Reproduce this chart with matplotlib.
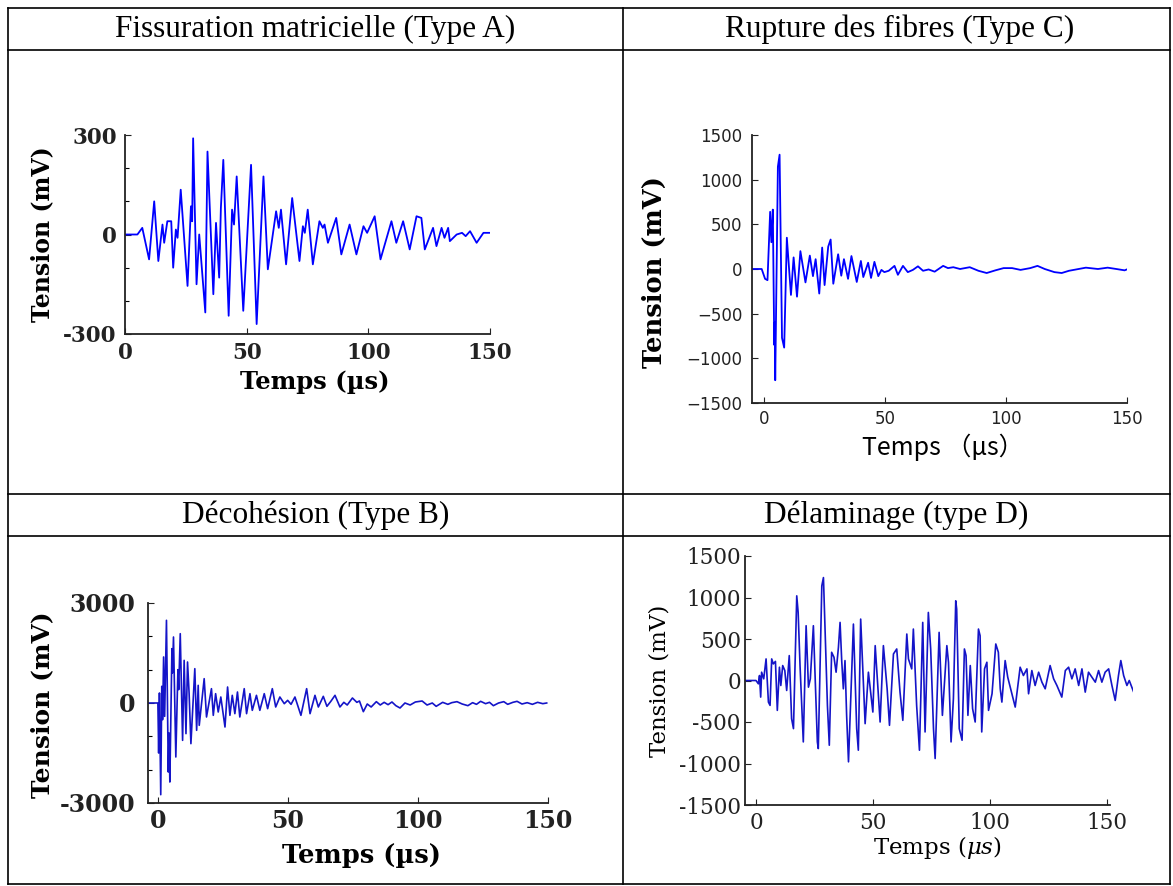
import numpy as np
import matplotlib
matplotlib.use('Agg')
import matplotlib.pyplot as plt
from matplotlib.ticker import FixedLocator, MultipleLocator

plt.rcParams['axes.unicode_minus'] = False
plt.rcParams['mathtext.fontset'] = 'dejavuserif'

# Signaux d'émission acoustique : (temps en µs, tension en mV)
signal_a = [(0, 0), (5.1, 0), (7.1, 20), (9.9, -75), (12.0, 100), (13.7, -80), (15.4, 30), (16.1, -25),
            (17.4, 40), (19.0, 40), (19.8, -100), (20.9, 15), (21.6, -10), (22.9, 135), (25.7, -155),
            (27.1, 85), (27.6, 40), (28.0, 290), (29.4, -150), (30.5, 0), (33.0, -235), (33.9, 250),
            (36.3, -180), (37.4, 35), (38.7, -130), (39.4, 80), (40.4, 225), (42.6, -245), (44.0, 75),
            (44.8, 30), (45.9, 175), (48.6, -230), (51.8, 210), (54.1, -270), (56.9, 175), (58.7, -105),
            (62.1, 70), (63.2, 20), (64.1, 75), (66.2, -90), (68.7, 110), (71.7, -80), (73.1, 25),
            (73.9, 5), (75.1, 75), (77.2, -90), (79.9, 40), (81.3, 20), (82.0, 30), (83.4, -25),
            (86.8, 50), (88.9, -60), (92.3, 30), (95.1, -60), (98.0, 25), (99.5, 5), (102.6, 55),
            (105.0, -75), (109.5, 40), (111.5, -25), (114.3, 40), (117.0, -45), (119.8, 55), (121.8, 50),
            (123.2, -45), (126.6, 20), (128.0, -35), (130.1, 20), (131.3, -10), (132.8, 20), (133.5, -20),
            (136.3, 0), (138.5, 5), (140.0, -5), (141.8, 10), (144.5, -25), (147.3, 5), (150.0, 5)]

signal_c = [(-5, 0), (-1, 0), (0.4, -110), (1.4, -125), (2.5, 640), (3.0, 300), (3.6, 665), (4.2, -850),
            (4.4, -600), (4.6, -1245), (5.7, 1145), (6.4, 1280), (7.4, -770), (8.3, -880), (9.4, 350),
            (11.1, -290), (12.2, 130), (13.6, -310), (15.0, 200), (17.1, -150), (18.9, 150), (20.2, -80),
            (21.3, 110), (22.8, -275), (24.0, 240), (25.0, -180), (26.5, 250), (27.5, 330), (28.6, -165),
            (30.6, 165), (31.9, -75), (33.0, 110), (34.7, -110), (36.1, 145), (38.3, -145), (40.0, 90),
            (41.0, -90), (43.0, 70), (44.2, -100), (45.6, 80), (47.2, -80), (48.5, -10), (49.7, -35),
            (51.5, -20), (53.9, 35), (55.3, -65), (57.4, 35), (59.4, -35), (61.5, -10), (63.6, 30),
            (65.7, -20), (68.0, -5), (70.5, -30), (74.0, 35), (76.0, 10), (78.2, 20), (81.0, 0),
            (85.0, 20), (88.6, -20), (92.0, -45), (95.6, -15), (99.0, 10), (102.5, 10), (106.0, -10),
            (110.0, 10), (113.0, 35), (116.0, 0), (120.0, -35), (123.0, -45), (126.0, -20), (130.0, 0),
            (133.0, 15), (138.0, 0), (142.0, 15), (145.6, 0), (149.0, -15), (150.4, 0)]

signal_b = [(-3.8, 0), (0.0, 0), (0.3, -1500), (0.6, 300), (1.1, -2750), (1.5, 500), (1.8, -500),
            (2.2, 1380), (2.6, -400), (3.3, 2480), (4.0, -2070), (4.3, -900), (4.6, -2370), (5.4, 1630),
            (5.6, 900), (6.0, 1980), (6.9, -1620), (7.7, 1000), (8.0, 400), (8.6, 2080), (9.5, -1120),
            (10.1, 1280), (10.8, -920), (11.4, 1230), (12.0, 300), (12.7, -1220), (14.2, 1030),
            (14.9, -820), (15.5, 530), (15.9, -670), (17.8, 730), (18.7, -420), (20.6, 430), (21.3, -370),
            (22.2, 280), (23.2, -270), (24.2, 180), (25.8, -720), (26.8, 480), (27.7, -370), (28.6, 230),
            (29.6, -320), (30.6, 330), (31.5, -420), (33.2, 430), (34.1, -320), (35.4, 280), (36.3, -220),
            (37.9, 230), (39.2, -220), (40.9, 280), (42.2, -170), (44.0, 430), (45.3, -120), (46.9, 180),
            (48.6, -20), (49.9, 80), (51.2, -40), (52.7, 180), (55.0, -370), (57.2, 430), (58.5, -320),
            (60.4, 230), (61.7, -120), (63.6, 200), (65.0, -100), (66.5, 50), (68.1, 230), (70.0, -120),
            (71.5, 20), (72.8, -60), (74.8, 150), (76.5, 20), (77.5, 60), (79.0, -260), (80.5, -30),
            (82.0, -120), (84.0, 40), (85.5, -60), (87.0, 20), (88.5, -50), (90.0, 30), (91.5, -80),
            (93.1, -150), (95.0, 0), (97.0, -60), (99.0, 30), (101.6, 60), (103.5, -60), (105.5, 0),
            (107.0, -100), (109.5, 20), (111.5, -40), (113.0, 10), (115.0, 40), (117.0, -30), (119.2, -80),
            (121.0, 10), (122.5, -40), (124.1, 50), (126.0, -20), (127.5, 20), (129.0, -80), (131.0, 0),
            (133.0, 40), (134.5, -40), (136.5, 20), (138.1, 50), (140.0, -30), (142.0, 10), (144.0, -40),
            (146.0, 20), (148.0, -20), (149.5, 0)]

signal_d = [(-4.7, 0), (0, 0), (1.0, -40), (1.5, 60), (2.0, -200), (2.4, 100), (3.3, 20), (4.3, 260),
            (5.3, -260), (6.0, -300), (6.7, 260), (7.4, 200), (8.3, 230), (9.1, -360), (10.0, 160),
            (10.6, -60), (11.4, 180), (12.3, 120), (13.1, -120), (14.2, 300), (15.2, -460), (16.0, -580),
            (17.4, 1020), (18.0, 820), (18.8, 180), (20.2, -740), (21.4, 660), (22.4, -80), (23.2, 20),
            (24.5, 660), (26.2, -740), (26.6, -820), (28.1, 1140), (28.8, 1240), (30.5, -300), (31.3, -780),
            (32.3, 340), (33.3, 280), (34.2, 100), (35.2, 400), (35.9, 700), (36.6, 240), (37.3, -100),
            (38.0, 240), (38.7, -420), (39.5, -980), (41.6, 680), (43.0, -580), (43.7, -840), (44.7, 740),
            (46.6, -520), (48.0, 100), (49.9, -380), (50.9, 420), (53.0, -500), (54.4, 420), (56.0, -100),
            (57.0, -540), (58.7, 320), (60.1, 380), (61.5, -140), (62.7, -480), (64.4, 560), (65.1, 260),
            (66.5, 140), (67.2, 620), (68.6, -300), (69.8, -840), (71.2, 700), (72.2, -620), (73.6, 820),
            (74.6, 380), (75.8, -580), (76.5, -940), (78.2, 580), (79.6, -420), (81.5, 420), (82.2, 220),
            (83.3, -740), (84.3, -220), (85.3, 960), (85.7, 860), (86.8, -580), (88.0, -720), (89.0, 380),
            (89.7, 300), (90.5, -420), (91.5, 180), (92.5, -340), (93.6, -500), (95.0, 620), (95.7, 540),
            (96.4, -620), (97.6, 140), (98.6, 220), (99.3, -360), (100.8, -160), (102.4, 440), (103.5, 340),
            (104.3, -100), (105.0, -260), (106.4, 240), (107.5, 40), (110.7, -320), (112.8, 160),
            (114.2, 60), (115.7, 140), (116.4, -160), (117.8, 120), (119.2, -60), (120.7, 100), (122.1, -20),
            (123.5, -100), (125.6, 180), (127.1, 20), (128.5, -60), (130.6, -200), (132.1, 120),
            (133.5, 160), (134.9, 20), (136.3, 140), (137.8, -60), (139.2, 140), (140.6, -140), (142.0, 100),
            (144.9, -20), (146.3, 120), (147.7, -20), (149.1, 100), (150.6, 140), (152.0, -60),
            (153.4, -240), (154.8, 60), (155.8, 240), (157.0, 60), (158.4, -60), (159.4, 0), (161.3, -140)]

# Titres des cellules du tableau
titles = ['Fissuration matricielle (Type A)', 'Rupture des fibres (Type C)',
          'Décohésion (Type B)', 'Délaminage (type D)']

# Graduations
a_yticks = [-300, 0, 300]
a_xticks = [0, 50, 100, 150]
c_yticks = [-1500, -1000, -500, 0, 500, 1000, 1500]
c_ylabels = ['\u22121500', '\u22121000', '\u2212500', '0', '500', '1000', '1500']
c_xticks = [0, 50, 100, 150]
b_yticks = [-3000, 0, 3000]
b_xticks = [0, 50, 100, 150]
d_yticks = [-1500, -1000, -500, 0, 500, 1000, 1500]
d_xticks = [0, 50, 100, 150]

W, H = 1173, 886
fig = plt.figure(figsize=(W / 100, H / 100), dpi=100)
fig.patch.set_facecolor('white')


def px_axes(left, top, right, bottom):
    return fig.add_axes([left / W, 1 - bottom / H, (right - left) / W, (bottom - top) / H])


def style_axes(ax):
    for s in ['top', 'right']:
        ax.spines[s].set_visible(False)
    for s in ['left', 'bottom']:
        ax.spines[s].set_linewidth(1.3)
        ax.spines[s].set_color('#222222')
    ax.tick_params(direction='in', length=4, width=0.8, colors='#222222')
    ax.tick_params(which='minor', direction='in', length=3, width=0.8)
    ax.patch.set_alpha(0)


# --- tableau ---
tab = fig.add_axes([0, 0, 1, 1])
tab.set_xlim(0, W)
tab.set_ylim(H, 0)
tab.axis('off')
x_left, x_mid, x_right = 8, 623, 1170
rows = [8, 50, 494, 536, 884]
for y in rows:
    tab.plot([x_left, x_right], [y, y], color='black', lw=1.2)
for x in [x_left, x_mid, x_right]:
    tab.plot([x, x], [rows[0], rows[-1]], color='black', lw=1.2)
title_font = dict(family='Liberation Serif', fontsize=22.5, ha='center', va='center')
tab.text((x_left + x_mid) / 2, (rows[0] + rows[1]) / 2, titles[0], **title_font)
tab.text((x_mid + x_right) / 2 + 3, (rows[0] + rows[1]) / 2, titles[1], **title_font)
tab.text((x_left + x_mid) / 2, (rows[2] + rows[3]) / 2, titles[2], **title_font)
tab.text((x_mid + x_right) / 2, (rows[2] + rows[3]) / 2, titles[3], **title_font)

bold_serif = dict(family='DejaVu Serif', weight='bold')

# --- Type A ---
ax = px_axes(125, 135, 490, 334)
t, v = np.array(signal_a).T
ax.plot(t, v, color='#0000ff', lw=1.3)
ax.set_xlim(0, 150)
ax.set_ylim(-300, 300)
style_axes(ax)
ax.yaxis.set_major_locator(FixedLocator(a_yticks))
ax.yaxis.set_minor_locator(MultipleLocator(100))
ax.xaxis.set_major_locator(FixedLocator(a_xticks))
for lab in ax.get_xticklabels() + ax.get_yticklabels():
    lab.set(fontsize=15.5, **bold_serif)
ax.tick_params(axis='y', pad=6)
ax.tick_params(axis='x', pad=6)
ax.set_xlabel('Temps (µs)', fontsize=17.5, **bold_serif)
ax.set_ylabel('Tension (mV)', fontsize=17, **bold_serif)
ax.xaxis.set_label_coords(0.52, -0.24)
ax.yaxis.set_label_coords(-0.227, 0.5)
ax.xaxis.label.set_va('center')
ax.yaxis.label.set_va('center')

# --- Type C ---
ax = px_axes(752, 135, 1127, 403)
t, v = np.array(signal_c).T
ax.plot(t, v, color='#0000ff', lw=1.3)
ax.set_xlim(-5, 150)
ax.set_ylim(-1500, 1500)
style_axes(ax)
ax.set_yticks(c_yticks)
ax.set_yticklabels(c_ylabels, family='DejaVu Sans', fontsize=12)
ax.set_xticks(c_xticks)
ax.set_xticklabels([str(x) for x in c_xticks], family='DejaVu Sans', fontsize=12)
ax.tick_params(axis='y', pad=7)
ax.tick_params(axis='x', pad=5)
ax.set_xlabel('Temps （μs）', family=['Noto Sans CJK JP', 'DejaVu Sans'], fontsize=18)
ax.set_ylabel('Tension (mV)', fontsize=18.5, **bold_serif)
ax.xaxis.set_label_coords(0.51, -0.165)
ax.yaxis.set_label_coords(-0.259, 0.49)
ax.xaxis.label.set_va('center')
ax.yaxis.label.set_va('center')

# --- Type B ---
ax = px_axes(148, 603, 548, 803)
t, v = np.array(signal_b).T
ax.plot(t, v, color='#1414c8', lw=1.2)
ax.set_xlim(-3.8, 150)
ax.set_ylim(-3000, 3000)
style_axes(ax)
ax.yaxis.set_major_locator(FixedLocator(b_yticks))
ax.yaxis.set_minor_locator(MultipleLocator(1000))
ax.xaxis.set_major_locator(FixedLocator(b_xticks))
for lab in ax.get_xticklabels() + ax.get_yticklabels():
    lab.set(fontsize=17, **bold_serif)
ax.tick_params(axis='y', pad=9)
ax.tick_params(axis='x', pad=4)
ax.set_xlabel('Temps (µs)', fontsize=18.5, **bold_serif)
ax.set_ylabel('Tension (mV)', fontsize=18, **bold_serif)
ax.xaxis.set_label_coords(0.535, -0.26)
ax.yaxis.set_label_coords(-0.265, 0.49)
ax.xaxis.label.set_va('center')
ax.yaxis.label.set_va('center')

# --- Type D ---
ax = px_axes(745, 556, 1133, 805)
t, v = np.array(signal_d).T
ax.plot(t, v, color='#1414c8', lw=1.2)
ax.set_xlim(-4.7, 161)
ax.set_ylim(-1500, 1500)
style_axes(ax)
ax.spines['bottom'].set_bounds(-4.7, 151)
ax.set_yticks(d_yticks)
ax.set_xticks(d_xticks)
for lab in ax.get_xticklabels() + ax.get_yticklabels():
    lab.set(fontsize=15.5, family='DejaVu Serif')
ax.tick_params(axis='y', pad=3)
ax.tick_params(axis='x', pad=5)
ax.set_xlabel(r'Temps ($\mu s$)', fontsize=16.5, family='DejaVu Serif')
ax.set_ylabel('Tension (mV)', fontsize=16.5, family='DejaVu Serif')
ax.xaxis.set_label_coords(0.497, -0.17)
ax.yaxis.set_label_coords(-0.22, 0.5)
ax.xaxis.label.set_va('center')
ax.yaxis.label.set_va('center')

fig.savefig('out.png', dpi=100, facecolor='white')
